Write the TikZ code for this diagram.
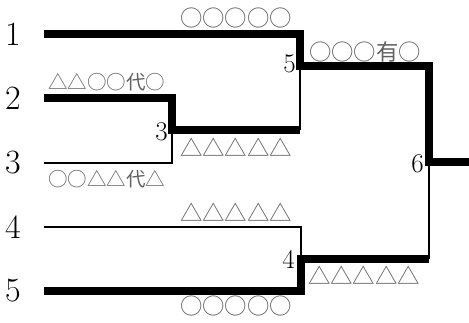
\documentclass[tikz,border=0pt]{standalone}
\usepackage{fontspec}
\newfontfamily\jp{Noto Sans CJK JP}
\begin{document}
\begin{tikzpicture}[x=1pt,y=-1pt,
  thickln/.style={line width=8pt,line join=miter},
  thinln/.style={line width=2.5pt,line join=miter},
  seed/.style={inner sep=0pt,font=\fontsize{34}{34}\selectfont},
  mnum/.style={inner sep=0pt,anchor=base east,font=\fontsize{27}{27}\selectfont},
  lbl/.style={inner sep=0pt,text=black!62,font=\jp\fontsize{22.4}{22.4}\selectfont},
  slbl/.style={inner sep=0pt,text=black!62,font=\jp\fontsize{19.5}{19.5}\selectfont}]
\useasboundingbox (0,0) rectangle (469,322);
% seeds
\node[seed] (n1) at (13,34) {1};
\node[seed] (n2) at (13,98) {2};
\node[seed] (n3) at (13,163) {3};
\node[seed] (n4) at (13,227) {4};
\node[seed] (n5) at (13,291) {5};
% line starts
\coordinate (s1) at (44,34);
\coordinate (s2) at (44,98);
\coordinate (s3) at (44,163);
\coordinate (s4) at (44,227);
\coordinate (s5) at (44,291);
% junctions
\coordinate (j3) at (172,130);
\coordinate (j5) at (300,66);
\coordinate (j4) at (301,259);
\coordinate (j6) at (429,162);
\coordinate (m3e) at (300,130);
\coordinate (m4e) at (429,259);
\coordinate (fin) at (469,162);
% thin (losing) lines
\draw[thinln] (s3) -| (j3);
\draw[thinln] (m3e) -- (j5);
\draw[thinln] (s4) -| (j4);
\draw[thinln] (m4e) -- (j6);
% thick (winning) lines
\draw[thickln] (s2) -| (j3) -- (m3e);
\draw[thickln] (s5) -| (j4) -- (m4e);
\draw[thickln] (s1) -| (j5) -| (j6) -- (fin);
% match numbers
\node[mnum] (k3) at (168,140) {3};
\node[mnum] (k5) at (296,72) {5};
\node[mnum] (k4) at (295,268) {4};
\node[mnum] (k6) at (424,172) {6};
% names
\node[lbl] (t1) at (236,18) {○○○○○};
\node[slbl] (t2) at (107,82) {△△○○代○};
\node[slbl] (t3) at (107,179) {○○△△代△};
\node[lbl] (t5) at (365,52) {○○○有○};
\node[lbl] (t3w) at (236,147) {△△△△△};
\node[lbl] (t4) at (236,212) {△△△△△};
\node[lbl] (t4w) at (364,275) {△△△△△};
\node[lbl] (t6) at (236,306) {○○○○○};
\end{tikzpicture}
\end{document}
